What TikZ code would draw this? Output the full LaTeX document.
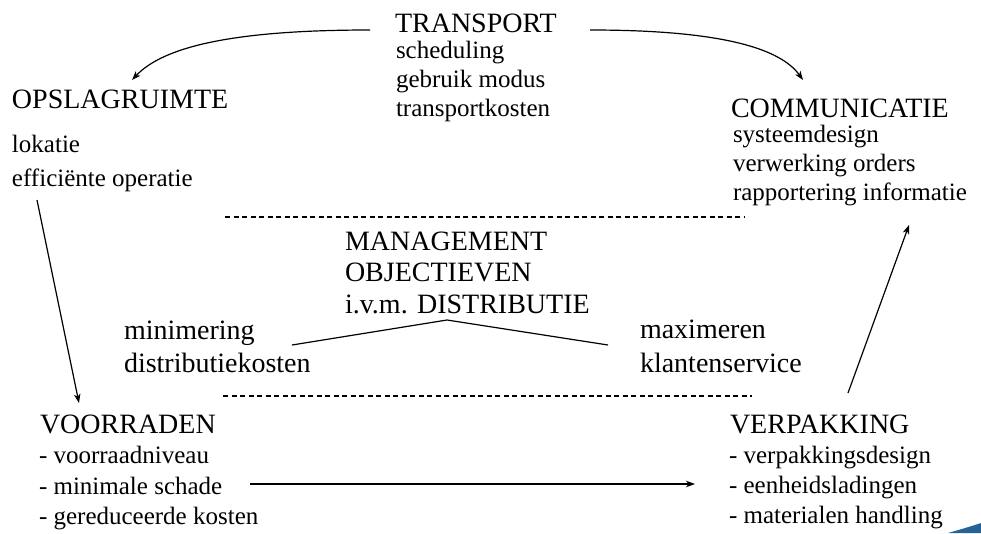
\documentclass[tikz,border=0pt]{standalone}
\usepackage{fontspec}
\setmainfont{Liberation Serif}
\usetikzlibrary{arrows.meta}
\definecolor{swooshblue}{RGB}{38,98,150}
\tikzset{
  txt/.style={anchor=base west, inner sep=0pt, outer sep=0pt},
  hd/.style={txt, font=\fontsize{28}{30}\selectfont},
  itm/.style={txt, font=\fontsize{25}{27}\selectfont},
  conn/.style={line width=1.2pt, -{Stealth[length=9pt,width=6.5pt,inset=2.5pt]}},
  plain/.style={line width=1.2pt},
  dashline/.style={line width=1.1pt, dash pattern=on 5pt off 3.5pt}
}
\begin{document}
\begin{tikzpicture}[x=1pt,y=-1pt]
\useasboundingbox (0,0) rectangle (981,533);
% TRANSPORT
\node[hd]  (tr)  at (395,32)  {TRANSPORT};
\node[itm] (tr1) at (396,58)  {scheduling};
\node[itm] (tr2) at (396,87)  {gebruik modus};
\node[itm] (tr3) at (396,116) {transportkosten};
% OPSLAGRUIMTE
\node[hd]  (op)  at (12,108)  {OPSLAGRUIMTE};
\node[itm] (op1) at (12,152)  {lokatie};
\node[itm] (op2) at (12,186)  {efficiënte operatie};
% COMMUNICATIE
\node[hd]  (co)  at (731,117) {COMMUNICATIE};
\node[itm] (co1) at (733,142) {systeemdesign};
\node[itm] (co2) at (733,171) {verwerking orders};
\node[itm] (co3) at (733,200) {rapportering informatie};
% MANAGEMENT
\node[hd] (ma1) at (345,250) {MANAGEMENT};
\node[hd] (ma2) at (345,281) {OBJECTIEVEN};
\node[hd] (ma3) at (345,313) {i.v.m. DISTRIBUTIE};
\node[hd] (mi1) at (124,339) {minimering};
\node[hd] (mi2) at (124,372) {distributiekosten};
\node[hd] (mx1) at (640,338) {maximeren};
\node[hd] (mx2) at (640,372) {klantenservice};
% VOORRADEN
\node[hd]  (vo)  at (40,433) {VOORRADEN};
\node[itm] (vo1) at (39,463) {- voorraadniveau};
\node[itm] (vo2) at (39,494) {- minimale schade};
\node[itm] (vo3) at (39,524) {- gereduceerde kosten};
% VERPAKKING
\node[hd]  (ve)  at (730,433) {VERPAKKING};
\node[itm] (ve1) at (729,463) {- verpakkingsdesign};
\node[itm] (ve2) at (729,493) {- eenheidsladingen};
\node[itm] (ve3) at (729,523) {- materialen handling};
% connector end points
\coordinate (a1s) at (370,30);  \coordinate (a1e) at (132,80);
\coordinate (a2s) at (590,30);  \coordinate (a2e) at (803,80);
\coordinate (a3s) at (37,200);  \coordinate (a3e) at (79,403);
\coordinate (a4s) at (250,484); \coordinate (a4e) at (695,484);
\coordinate (a5s) at (848,393); \coordinate (a5e) at (909,225);
\coordinate (d1a) at (225,217); \coordinate (d1b) at (745,217);
\coordinate (d2a) at (223,396); \coordinate (d2b) at (752,396);
\coordinate (vl) at (292,345); \coordinate (vp) at (447,320); \coordinate (vr) at (608,345);
% arrows
\draw[conn] (a1s) .. controls (240,30) and (165,45) .. (a1e);
\draw[conn] (a2s) .. controls (720,30) and (780,48) .. (a2e);
\draw[conn] (a3s) -- (a3e);
\draw[conn] (a4s) -- (a4e);
\draw[conn] (a5s) -- (a5e);
% dashed lines
\draw[dashline] (d1a) -- (d1b);
\draw[dashline] (d2a) -- (d2b);
% objectives lines
\draw[plain] (vl) -- (vp) -- (vr);
% corner swoosh
\fill[swooshblue] (948,533) .. controls (962,529) and (972,526) .. (981,523) -- (981,533) -- cycle;
\end{tikzpicture}
\end{document}
